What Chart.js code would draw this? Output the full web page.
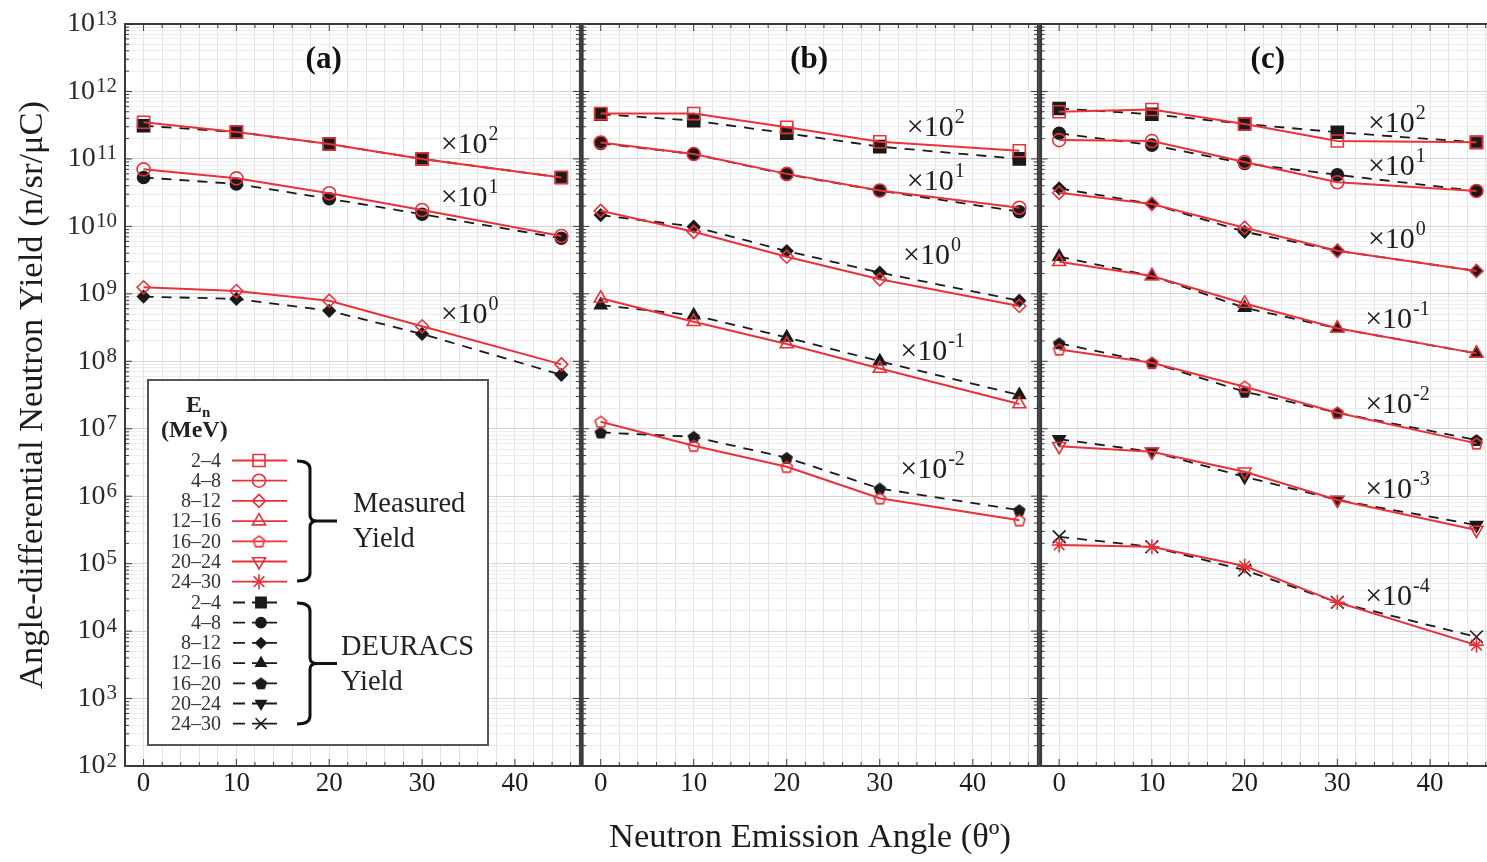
<!DOCTYPE html>
<html>
<head>
<meta charset="utf-8">
<script src="https://cdn.jsdelivr.net/npm/chart.js@4.4.1/dist/chart.umd.min.js"></script>
<style>
  html, body { margin: 0; padding: 0; background: #fff; overflow: hidden; width: 1487px; height: 862px; }
  .panel { position: absolute; top: 0; height: 862px; }
</style>
</head>
<body>
<div class="panel" style="left:0;width:590px"><canvas id="chartA"></canvas></div>
<div class="panel" style="left:572px;width:476px"><canvas id="chartB"></canvas></div>
<div class="panel" style="left:1030px;width:480px"><canvas id="chartC"></canvas></div>
<script>
// Angle-differential neutron yield, three panels (a) (b) (c)
const angles = [0, 10, 20, 30, 45];
const energyGroups = ['2–4', '4–8', '8–12', '12–16', '16–20', '20–24', '24–30'];
const xTickLabels = [0, 10, 20, 30, 40];
const yTickExponents = [2, 3, 4, 5, 6, 7, 8, 9, 10, 11, 12, 13];

// panel (a): energy groups 2–4, 4–8, 8–12
const measuredA = [
    [3.5e11, 2.5e11, 1.66e11, 1.0e11, 5.3e10],
    [7.0e10, 5.15e10, 3.1e10, 1.75e10, 7.2e9],
    [1.25e9, 1.1e9, 7.9e8, 3.3e8, 9.0e7]
];
const deuracsA = [
    [3.1e11, 2.5e11, 1.66e11, 1.0e11, 5.3e10],
    [5.3e10, 4.25e10, 2.57e10, 1.51e10, 6.65e9],
    [9.1e8, 8.4e8, 5.6e8, 2.54e8, 6.3e7]
];
const multipliersA = [2, 1, 0];

// panel (b): energy groups 2–4 ... 16–20
const measuredB = [
    [4.7e11, 4.7e11, 2.94e11, 1.8e11, 1.32e11],
    [1.75e11, 1.18e11, 6.0e10, 3.4e10, 1.89e10],
    [1.7e10, 8.3e9, 3.55e9, 1.64e9, 6.6e8],
    [8.6e8, 3.86e8, 1.8e8, 7.8e7, 2.32e7],
    [1.27e7, 5.6e6, 2.73e6, 9.3e5, 4.4e5]
];
const deuracsB = [
    [4.6e11, 3.7e11, 2.4e11, 1.52e11, 1.0e11],
    [1.7e11, 1.18e11, 5.9e10, 3.38e10, 1.65e10],
    [1.47e10, 9.9e9, 4.3e9, 2.06e9, 7.9e8],
    [6.8e8, 4.8e8, 2.26e8, 1.0e8, 3.16e7],
    [8.8e6, 7.6e6, 3.7e6, 1.3e6, 6.2e5]
];
const multipliersB = [2, 1, 0, -1, -2];

// panel (c): energy groups 2–4 ... 24–30
const measuredC = [
    [5.0e11, 5.4e11, 3.3e11, 1.84e11, 1.76e11],
    [1.9e11, 1.84e11, 9.0e10, 4.5e10, 3.35e10],
    [3.15e10, 2.15e10, 9.55e9, 4.35e9, 2.18e9],
    [2.99e9, 1.84e9, 7.2e8, 3.08e8, 1.31e8],
    [1.5e8, 9.5e7, 4.2e7, 1.73e7, 6.07e6],
    [5.5e6, 4.56e6, 2.3e6, 8.8e5, 3.15e5],
    [1.89e5, 1.78e5, 9.2e4, 2.67e4, 6.2e3]
];
const deuracsC = [
    [5.6e11, 4.6e11, 3.3e11, 2.48e11, 1.76e11],
    [2.4e11, 1.6e11, 8.6e10, 5.8e10, 3.35e10],
    [3.66e10, 2.15e10, 8.3e9, 4.35e9, 2.18e9],
    [3.55e9, 1.84e9, 6.2e8, 3.08e8, 1.31e8],
    [1.85e8, 9.5e7, 3.54e7, 1.73e7, 6.8e6],
    [7.0e6, 4.56e6, 1.94e6, 8.8e5, 3.73e5],
    [2.5e5, 1.78e5, 8.0e4, 2.67e4, 8.2e3]
];
const multipliersC = [2, 1, 0, -1, -2, -3, -4];

// ---- styling ----
const SERIF = "'Liberation Serif', 'Times New Roman', serif";
const MEAS_COLOR = '#e8323a';
const DEU_COLOR = '#1a1a1a';
const AXIS_COLOR = '#3a3a3a';
const TEXT_COLOR = '#1c1c1c';

function pentagonCanvas(size, fill, stroke, lw) {
    const c = document.createElement('canvas');
    c.width = c.height = size;
    const g = c.getContext('2d');
    const cx = size / 2, cy = size / 2 + 0.6, r = size / 2 - lw;
    g.beginPath();
    for (let i = 0; i < 5; i++) {
        const a = -Math.PI / 2 + i * 2 * Math.PI / 5;
        g.lineTo(cx + r * Math.cos(a), cy + r * Math.sin(a));
    }
    g.closePath();
    if (fill) { g.fillStyle = fill; g.fill(); }
    g.lineWidth = lw;
    g.strokeStyle = stroke;
    g.stroke();
    return c;
}

const pentRed = pentagonCanvas(15, null, MEAS_COLOR, 1.6);
const pentBlack = pentagonCanvas(14, DEU_COLOR, DEU_COLOR, 1);

const measuredMarkers = [
    { pointStyle: 'rect', radius: 8.5, rotation: 0 },
    { pointStyle: 'circle', radius: 6.5, rotation: 0 },
    { pointStyle: 'rectRot', radius: 6.5, rotation: 0 },
    { pointStyle: 'triangle', radius: 7.5, rotation: 0 },
    { pointStyle: pentRed, radius: 7, rotation: 0 },
    { pointStyle: 'triangle', radius: 7.5, rotation: 180 },
    { pointStyle: 'star', radius: 7.5, rotation: 0 }
];
const deuracsMarkers = [
    { pointStyle: 'rect', radius: 8.5, rotation: 0 },
    { pointStyle: 'circle', radius: 6, rotation: 0 },
    { pointStyle: 'rectRot', radius: 6, rotation: 0 },
    { pointStyle: 'triangle', radius: 7, rotation: 0 },
    { pointStyle: pentBlack, radius: 7, rotation: 0 },
    { pointStyle: 'triangle', radius: 7, rotation: 180 },
    { pointStyle: 'crossRot', radius: 9, rotation: 0 }
];

// grid positions for the axes (every 2 degrees, 1..9 per decade)
const xGridValues = [];
for (let v = -2; v <= 46; v += 2) xGridValues.push(v);
const yGridValues = [];
for (let e = 2; e < 13; e++) for (let m = 1; m <= 9; m++) yGridValues.push(m * Math.pow(10, e));
yGridValues.push(1e13);
const isDecade = v => Math.abs(Math.log10(v) - Math.round(Math.log10(v))) < 1e-9;

function buildDatasets(measured, deuracs) {
    const ds = [];
    measured.forEach((vals, i) => {
        const m = measuredMarkers[i];
        ds.push({
            label: 'Measured ' + energyGroups[i],
            data: angles.map((a, j) => ({ x: a, y: vals[j] })),
            borderColor: MEAS_COLOR,
            borderWidth: 2,
            pointStyle: m.pointStyle,
            pointRadius: m.radius,
            pointRotation: m.rotation,
            pointBorderColor: MEAS_COLOR,
            pointBackgroundColor: 'rgba(255,255,255,0)',
            pointBorderWidth: 1.6,
            tension: 0
        });
    });
    deuracs.forEach((vals, i) => {
        const m = deuracsMarkers[i];
        ds.push({
            label: 'DEURACS ' + energyGroups[i],
            data: angles.map((a, j) => ({ x: a, y: vals[j] })),
            borderColor: DEU_COLOR,
            borderWidth: 1.8,
            borderDash: [10, 8],
            pointStyle: m.pointStyle,
            pointRadius: m.radius,
            pointRotation: m.rotation,
            pointBorderColor: DEU_COLOR,
            pointBackgroundColor: DEU_COLOR,
            pointBorderWidth: 1.6,
            tension: 0
        });
    });
    return ds;
}

// "10" with superscript exponent
function drawPower(ctx, x, y, base, exp, baseSize, expSize, raise, align) {
    ctx.save();
    ctx.textBaseline = 'middle';
    ctx.textAlign = 'left';
    ctx.font = baseSize + 'px ' + SERIF;
    const bw = ctx.measureText(base).width;
    ctx.font = expSize + 'px ' + SERIF;
    const ew = ctx.measureText(exp).width;
    const start = align === 'right' ? x - bw - ew - 1 : x;
    ctx.font = baseSize + 'px ' + SERIF;
    ctx.fillText(base, start, y);
    ctx.font = expSize + 'px ' + SERIF;
    ctx.fillText(exp, start + bw + 1, y - raise);
    ctx.restore();
}

function framePlugin(leftWidth) {
    return {
        id: 'frame',
        afterDatasetsDraw(chart) {
            const { ctx, chartArea: a, scales } = chart;
            ctx.save();
            ctx.strokeStyle = AXIS_COLOR;
            ctx.lineWidth = 1;
            // inward ticks
            ctx.beginPath();
            xGridValues.forEach(v => {
                const px = scales.x.getPixelForValue(v);
                const len = v % 10 === 0 ? 7 : 4;
                ctx.moveTo(px, a.bottom); ctx.lineTo(px, a.bottom - len);
                ctx.moveTo(px, a.top); ctx.lineTo(px, a.top + len);
            });
            yGridValues.forEach(v => {
                const py = scales.y.getPixelForValue(v);
                const len = isDecade(v) ? 7 : 4;
                ctx.moveTo(a.left, py); ctx.lineTo(a.left + len, py);
                ctx.moveTo(a.right, py); ctx.lineTo(a.right - len, py);
            });
            ctx.stroke();
            // outer frame
            ctx.lineWidth = 2;
            ctx.strokeRect(a.left, a.top, a.right - a.left, a.bottom - a.top);
            ctx.lineWidth = leftWidth;
            ctx.beginPath();
            ctx.moveTo(a.left, a.top - 1); ctx.lineTo(a.left, a.bottom + 1);
            ctx.stroke();
            ctx.restore();
        }
    };
}

function annotationPlugin(letter, letterPos, multipliers, anchors) {
    return {
        id: 'annotations',
        afterDatasetsDraw(chart) {
            const { ctx, scales } = chart;
            ctx.save();
            ctx.fillStyle = '#111';
            ctx.font = 'bold 31px ' + SERIF;
            ctx.textAlign = 'center';
            ctx.textBaseline = 'middle';
            ctx.fillText(letter, scales.x.getPixelForValue(letterPos[0]), scales.y.getPixelForValue(letterPos[1]));
            ctx.fillStyle = TEXT_COLOR;
            multipliers.forEach((m, i) => {
                const px = scales.x.getPixelForValue(anchors[i][0]);
                const py = scales.y.getPixelForValue(anchors[i][1]);
                drawPower(ctx, px, py, '×10', String(m), 30, 20, 10, 'left');
            });
            ctx.restore();
        }
    };
}

const yLabelPlugin = {
    id: 'yLabels',
    afterDraw(chart) {
        const { ctx, scales } = chart;
        ctx.save();
        ctx.fillStyle = '#2a2a2a';
        yTickExponents.forEach(e => {
            const py = scales.y.getPixelForValue(Math.pow(10, e));
            drawPower(ctx, 117, py, '10', String(e), 28, 21, 5, 'right');
        });
        ctx.restore();
    }
};

function drawBrace(ctx, x, top, bottom, tipX) {
    const mid = (top + bottom) / 2;
    ctx.beginPath();
    ctx.moveTo(x - 13, top);
    ctx.quadraticCurveTo(x, top, x, top + 8);
    ctx.lineTo(x, mid - 6);
    ctx.quadraticCurveTo(x, mid, x + 7, mid);
    ctx.lineTo(tipX, mid);
    ctx.moveTo(x + 7, mid);
    ctx.quadraticCurveTo(x, mid, x, mid + 6);
    ctx.lineTo(x, bottom - 8);
    ctx.quadraticCurveTo(x, bottom, x - 13, bottom);
    ctx.stroke();
}

const legendPlugin = {
    id: 'customLegend',
    afterDraw(chart) {
        const { ctx } = chart;
        const drawPoint = Chart.helpers.drawPoint;
        const box = { left: 148, top: 380, right: 488, bottom: 745 };
        ctx.save();
        ctx.fillStyle = '#fff';
        ctx.fillRect(box.left, box.top, box.right - box.left, box.bottom - box.top);
        ctx.strokeStyle = '#555';
        ctx.lineWidth = 2;
        ctx.strokeRect(box.left, box.top, box.right - box.left, box.bottom - box.top);

        // header
        ctx.fillStyle = '#222';
        ctx.textBaseline = 'middle';
        ctx.textAlign = 'left';
        ctx.font = 'bold 24px ' + SERIF;
        ctx.fillText('E', 186, 406);
        const ew = ctx.measureText('E').width;
        ctx.font = 'bold 15px ' + SERIF;
        ctx.fillText('n', 186 + ew, 413);
        ctx.font = 'bold 24px ' + SERIF;
        ctx.fillText('(MeV)', 161, 431);

        const step = 20.2;
        energyGroups.forEach((g, i) => {
            // measured row
            let y = 460.5 + i * step;
            ctx.font = '20px ' + SERIF;
            ctx.textAlign = 'right';
            ctx.fillStyle = '#333';
            ctx.fillText(g, 221, y + 1);
            ctx.strokeStyle = MEAS_COLOR;
            ctx.lineWidth = 1.8;
            ctx.setLineDash([]);
            ctx.beginPath(); ctx.moveTo(232, y); ctx.lineTo(287, y); ctx.stroke();
            const m = measuredMarkers[i];
            ctx.fillStyle = 'rgba(255,255,255,0)';
            ctx.lineWidth = 1.6;
            drawPoint(ctx, { pointStyle: m.pointStyle, rotation: m.rotation, radius: m.radius, borderWidth: 1.6 }, 259, y);

            // DEURACS row
            y = 602.5 + i * step;
            ctx.fillStyle = '#333';
            ctx.fillText(g, 221, y + 1);
            ctx.strokeStyle = DEU_COLOR;
            ctx.lineWidth = 1.8;
            ctx.beginPath();
            ctx.moveTo(233, y); ctx.lineTo(245, y);
            ctx.moveTo(252, y); ctx.lineTo(277, y);
            ctx.stroke();
            const d = deuracsMarkers[i];
            ctx.fillStyle = DEU_COLOR;
            ctx.lineWidth = 1.6;
            drawPoint(ctx, { pointStyle: d.pointStyle, rotation: d.rotation, radius: d.radius * 0.85, borderWidth: 1.6 }, 261, y);
        });

        ctx.strokeStyle = '#111';
        ctx.lineWidth = 3;
        drawBrace(ctx, 310, 461, 581, 337);
        drawBrace(ctx, 310, 603, 724, 337);

        ctx.fillStyle = '#222';
        ctx.textAlign = 'left';
        ctx.font = '28.5px ' + SERIF;
        ctx.fillText('Measured', 353, 505);
        ctx.fillText('Yield', 353, 540);
        ctx.fillText('DEURACS', 341, 648);
        ctx.fillText('Yield', 341, 683);
        ctx.restore();
    }
};

function makeChart(id, measured, deuracs, cfg) {
    const ctx = document.getElementById(id).getContext('2d');
    return new Chart(ctx, {
        type: 'line',
        data: { datasets: buildDatasets(measured, deuracs) },
        options: {
            responsive: true,
            maintainAspectRatio: false,
            animation: false,
            layout: { padding: { top: 24, left: cfg.padLeft, right: cfg.padRight, bottom: 0 } },
            plugins: {
                legend: { display: false },
                tooltip: { enabled: false }
            },
            scales: {
                x: {
                    type: 'linear',
                    min: -2,
                    max: 47,
                    afterBuildTicks: s => { s.ticks = xGridValues.map(v => ({ value: v })); },
                    afterFit: s => { s.height = 96; },
                    grid: { color: '#e3e3e3', lineWidth: 1, drawTicks: false },
                    border: { display: true, color: AXIS_COLOR, width: 2 },
                    ticks: {
                        autoSkip: false,
                        maxRotation: 0,
                        padding: 2,
                        color: TEXT_COLOR,
                        font: { family: SERIF, size: 27 },
                        callback: v => xTickLabels.includes(v) ? String(v) : ''
                    },
                    title: {
                        display: cfg.xTitle,
                        text: 'Neutron Emission Angle (θº)',
                        color: TEXT_COLOR,
                        font: { family: SERIF, size: 34.5 },
                        padding: { top: 0, bottom: 3 }
                    }
                },
                y: {
                    type: 'logarithmic',
                    min: 1e2,
                    max: 1e13,
                    afterBuildTicks: s => { s.ticks = yGridValues.map(v => ({ value: v, major: isDecade(v) })); },
                    afterFit: s => { s.width = cfg.yWidth; },
                    grid: {
                        color: c => (c.tick && isDecade(c.tick.value)) ? '#d4d4d4' : '#ececec',
                        drawTicks: false
                    },
                    border: { display: true, color: AXIS_COLOR, width: 2 },
                    ticks: { display: false, autoSkip: false },
                    title: {
                        display: cfg.yTitle,
                        text: 'Angle-differential Neutron Yield (n/sr/μC)',
                        color: TEXT_COLOR,
                        font: { family: SERIF, size: 34.5 },
                        padding: { top: 12, bottom: 0 }
                    }
                }
            }
        },
        plugins: cfg.plugins
    });
}

makeChart('chartA', measuredA, deuracsA, {
    padLeft: 0, padRight: 9, yWidth: 125, xTitle: false, yTitle: true,
    plugins: [
        framePlugin(2),
        annotationPlugin('(a)', [19.4, 2.9e12], multipliersA,
            [[32.0, 1.6e11], [32.0, 2.63e10], [32.0, 4.85e8]]),
        yLabelPlugin,
        legendPlugin
    ]
});

makeChart('chartB', measuredB, deuracsB, {
    padLeft: 10, padRight: 10, yWidth: 0, xTitle: true, yTitle: false,
    plugins: [
        framePlugin(3),
        annotationPlugin('(b)', [22.4, 2.9e12], multipliersB,
            [[32.9, 2.87e11], [32.9, 4.55e10], [32.5, 3.63e9], [32.2, 1.37e8], [32.2, 2.44e6]])
    ]
});

makeChart('chartC', measuredC, deuracsC, {
    padLeft: 10, padRight: 15, yWidth: 0, xTitle: false, yTitle: false,
    plugins: [
        framePlugin(3),
        annotationPlugin('(c)', [22.5, 2.9e12], multipliersC,
            [[33.3, 3.3e11], [33.3, 7.6e10], [33.3, 6.3e9], [33.0, 4.1e8], [33.0, 2.25e7], [33.0, 1.23e6], [33.0, 3.2e4]])
    ]
});
</script>
</body>
</html>
